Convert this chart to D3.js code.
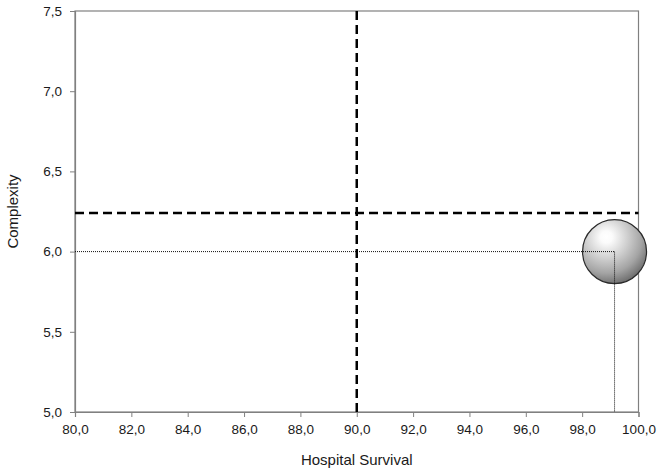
<!DOCTYPE html>
<html>
<head>
<meta charset="utf-8">
<script src="https://cdn.jsdelivr.net/npm/d3@7"></script>
<style>
  html, body { margin: 0; padding: 0; background: #fff; }
  svg { display: block; }
  text { font-family: "Liberation Sans", Arial, sans-serif; fill: #1a1a1a; }
</style>
</head>
<body>
<script>
// ---- data ----
const xTicks = [80, 82, 84, 86, 88, 90, 92, 94, 96, 98, 100];
const yTicks = [5.0, 5.5, 6.0, 6.5, 7.0, 7.5];
const xDomain = [80, 100];
const yDomain = [5.0, 7.5];
const bubbleX = [99.15];
const bubbleY = [6.0];
const refX = [90];        // vertical dashed reference
const refY = [6.24];      // horizontal dashed reference
const xTitle = "Hospital Survival";
const yTitle = "Complexity";

// ---- layout ----
const W = 661, H = 474;
const mLeft = 75, mRight = 638.5, mTop = 11, mBottom = 412;
const bubbleR = 32;

const svg = d3.select("body").append("svg").attr("width", W).attr("height", H);

const x = d3.scaleLinear().domain(xDomain).range([mLeft, mRight]);
const y = d3.scaleLinear().domain(yDomain).range([mBottom, mTop]);
const fmt = d => d.toFixed(1).replace(".", ",");

// gradient
const defs = svg.append("defs");
const grad = defs.append("radialGradient").attr("id", "sphere")
  .attr("cx", "38%").attr("cy", "30%").attr("r", "78%").attr("fx", "37%").attr("fy", "27%");
grad.append("stop").attr("offset", "0%").attr("stop-color", "#ffffff");
grad.append("stop").attr("offset", "12%").attr("stop-color", "#fbfbfb");
grad.append("stop").attr("offset", "40%").attr("stop-color", "#d2d2d2");
grad.append("stop").attr("offset", "70%").attr("stop-color", "#a4a4a4");
grad.append("stop").attr("offset", "100%").attr("stop-color", "#5e5e5e");

// frame
svg.append("rect").attr("x", mLeft).attr("y", mTop)
  .attr("width", mRight - mLeft).attr("height", mBottom - mTop)
  .attr("fill", "none").attr("stroke", "#808080").attr("stroke-width", 1.2);

// axes
const xAxis = svg.append("g").attr("transform", `translate(0,${mBottom})`)
  .call(d3.axisBottom(x).tickValues(xTicks).tickFormat(fmt).tickSize(5).tickPadding(7));
const yAxis = svg.append("g").attr("transform", `translate(${mLeft},0)`)
  .call(d3.axisLeft(y).tickValues(yTicks).tickFormat(fmt).tickSize(5).tickPadding(8));
[xAxis, yAxis].forEach(g => {
  g.select(".domain").attr("stroke", "#808080").attr("stroke-width", 1.2);
  g.selectAll(".tick line").attr("stroke", "#808080");
  g.selectAll(".tick text").attr("font-size", 13.5).attr("fill", "#1a1a1a")
    .attr("font-family", "'Liberation Sans', Arial, sans-serif");
});

// bubble
svg.selectAll("circle.bubble").data(bubbleX).enter().append("circle")
  .attr("class", "bubble")
  .attr("cx", d => x(d)).attr("cy", (d, i) => y(bubbleY[i])).attr("r", bubbleR)
  .attr("fill", "url(#sphere)").attr("stroke", "#2a2a2a").attr("stroke-width", 1.2);

// dotted guide lines to the bubble
bubbleX.forEach((bx, i) => {
  svg.append("line").attr("x1", x(xDomain[0])).attr("x2", x(bx))
    .attr("y1", y(bubbleY[i])).attr("y2", y(bubbleY[i]))
    .attr("stroke", "#111").attr("stroke-width", 1).attr("stroke-dasharray", "1,1");
  svg.append("line").attr("x1", x(bx)).attr("x2", x(bx))
    .attr("y1", y(bubbleY[i])).attr("y2", y(yDomain[0]))
    .attr("stroke", "#111").attr("stroke-width", 1).attr("stroke-dasharray", "1,1");
});

// dashed reference lines
refX.forEach(v => svg.append("line")
  .attr("x1", x(v)).attr("x2", x(v)).attr("y1", y(yDomain[1])).attr("y2", y(yDomain[0]))
  .attr("stroke", "#000").attr("stroke-width", 2.5).attr("stroke-dasharray", "9,5"));
refY.forEach(v => svg.append("line")
  .attr("x1", x(xDomain[0])).attr("x2", x(xDomain[1])).attr("y1", y(v)).attr("y2", y(v))
  .attr("stroke", "#000").attr("stroke-width", 2.5).attr("stroke-dasharray", "9,5"));

// titles
svg.append("text").attr("x", (mLeft + mRight) / 2).attr("y", 465)
  .attr("text-anchor", "middle").attr("font-size", 15).text(xTitle);
svg.append("text").attr("transform", `translate(18,${(mTop + mBottom) / 2}) rotate(-90)`)
  .attr("text-anchor", "middle").attr("font-size", 15).text(yTitle);
</script>
</body>
</html>
